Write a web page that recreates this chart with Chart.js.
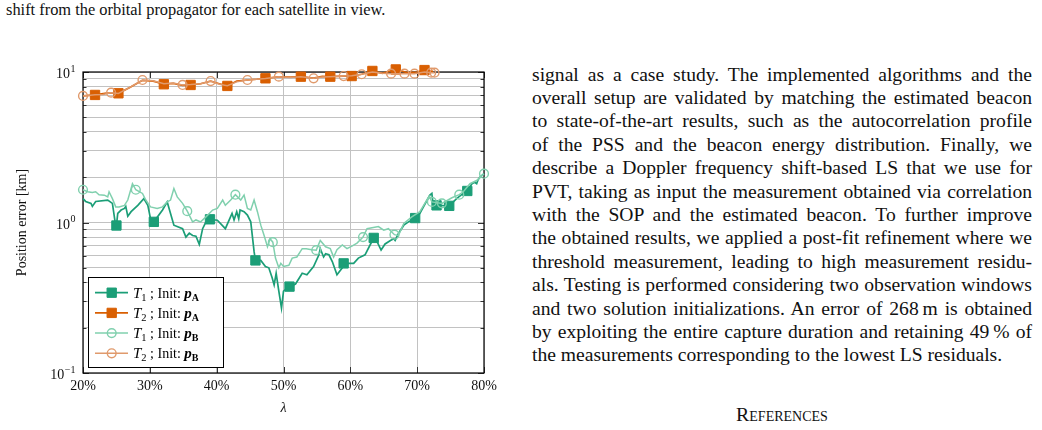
<!DOCTYPE html>
<html><head><meta charset="utf-8">
<script src="https://cdn.jsdelivr.net/npm/chart.js@4.4.1/dist/chart.umd.min.js"></script>
<style>
html,body{margin:0;padding:0;background:#fff;}
body{width:1042px;height:430px;position:relative;overflow:hidden;font-family:"Liberation Serif","Times New Roman",serif;color:#111;}
#c{position:absolute;left:0;top:0;}
#cap{position:absolute;left:6px;top:1px;font-size:16.4px;line-height:18px;white-space:nowrap;}
#col{position:absolute;left:532px;top:62.5px;width:500px;font-size:19.6px;line-height:23.4px;}
#col .j{text-align:justify;text-align-last:justify;white-space:nowrap;overflow:visible;}
#col .l{text-align:left;white-space:nowrap;}
#refs{position:absolute;left:532px;top:403px;width:500px;text-align:center;font-size:19.8px;line-height:23.8px;font-variant:small-caps;}
</style></head>
<body>
<div id="cap">shift from the orbital propagator for each satellite in view.</div>
<canvas id="c" width="520" height="430"></canvas>
<div id="col">
<div class="j">signal as a case study. The implemented algorithms and the</div>
<div class="j">overall setup are validated by matching the estimated beacon</div>
<div class="j">to state-of-the-art results, such as the autocorrelation profile</div>
<div class="j">of the PSS and the beacon energy distribution. Finally, we</div>
<div class="j">describe a Doppler frequency shift-based LS that we use for</div>
<div class="j">PVT, taking as input the measurement obtained via correlation</div>
<div class="j">with the SOP and the estimated beacon. To further improve</div>
<div class="j">the obtained results, we applied a post-fit refinement where we</div>
<div class="j">threshold measurement, leading to high measurement residu-</div>
<div class="j">als. Testing is performed considering two observation windows</div>
<div class="j">and two solution initializations. An error of 268&#8201;m is obtained</div>
<div class="j">by exploiting the entire capture duration and retaining 49&#8201;% of</div>
<div class="l">the measurements corresponding to the lowest LS residuals.</div>
</div>
<div id="refs">References</div>
<script>
// ---------- data ----------
const lambdaT1A = [20.0,20.4,21.2,21.4,21.9,23.7,24.4,24.8,25.0,25.2,25.7,26.2,26.4,26.7,27.2,28.2,29.1,29.7,30.1,30.6,31.9,32.6,33.6,34.9,35.4,35.9,36.4,36.9,37.4,37.9,38.4,39.0,40.1,41.3,42.3,42.6,43.0,43.3,43.5,44.1,44.6,45.1,45.6,45.8,46.6,47.3,47.8,48.3,48.6,48.9,49.3,49.7,50.0,50.9,51.8,52.8,53.5,54.5,55.3,55.5,56.0,56.3,56.8,57.3,58.0,58.8,59.0,60.5,61.2,62.2,63.2,63.5,64.0,64.6,65.2,66.0,66.5,66.7,67.2,68.0,68.7,69.7,70.4,71.9,72.2,72.4,72.9,74.8,75.9,76.9,77.5,78.2,78.6,78.9,79.1,79.4,80.0];
const errT1A    = [1.44,1.38,1.34,1.28,1.38,1.41,1.34,1.01,0.955,1.15,1.21,1.24,1.28,1.10,1.18,1.30,1.44,1.30,1.06,1.01,1.21,1.37,0.96,0.91,0.80,0.85,0.82,0.81,0.715,0.91,1.01,1.05,1.035,0.91,1.15,1.04,1.18,1.06,1.21,1.18,1.12,1.01,0.64,0.56,0.56,0.51,0.50,0.43,0.385,0.46,0.35,0.27,0.35,0.375,0.39,0.46,0.45,0.51,0.61,0.67,0.59,0.62,0.61,0.55,0.45,0.50,0.535,0.535,0.58,0.61,0.745,0.79,0.745,0.656,0.72,0.76,0.78,0.76,0.845,0.96,1.01,1.07,1.15,1.52,1.56,1.30,1.30,1.29,1.44,1.56,1.62,1.81,1.85,1.81,1.92,2.0,2.11];
const markT1A   = [25.0,30.6,39.0,45.8,50.9,59.0,63.5,69.7,72.9,74.8,77.5];

const lambdaT2A = [20.0,21.8,23.5,25.3,27.0,28.9,30.5,32.1,33.5,34.9,36.1,37.6,39.1,40.4,41.6,43.0,44.6,46.0,47.3,49.3,51.0,52.6,54.5,55.8,57.0,59.0,60.2,61.7,63.3,64.8,66.8,68.5,70.0,71.1,72.4];
const errT2A    = [6.95,7.04,7.25,7.22,7.9,8.8,8.7,8.29,8.4,8.15,8.2,8.35,8.7,8.35,8.08,8.7,8.85,8.95,9.08,9.3,9.25,9.31,9.1,9.35,9.31,9.4,9.4,9.66,10.16,9.8,10.4,9.9,10.0,10.3,10.1];
const markT2A   = [21.8,25.3,32.1,36.1,41.6,47.3,52.6,57.0,60.2,63.3,66.8,71.1];

const lambdaT1B = [20.0,20.7,21.4,21.9,22.4,23.2,23.7,23.9,24.4,24.9,25.4,26.2,26.7,27.4,27.9,28.9,29.4,30.1,31.1,31.9,32.6,33.1,33.6,34.1,34.9,35.6,36.4,36.9,37.6,38.4,39.4,40.1,40.9,41.3,42.1,42.8,43.6,44.1,44.6,45.1,45.6,46.1,46.6,47.1,47.6,48.0,48.4,48.8,49.3,49.6,50.0,50.8,51.3,52.0,52.8,53.4,54.2,54.9,55.5,56.3,57.0,57.5,58.0,58.8,59.5,60.3,61.0,61.9,62.5,64.2,65.0,65.7,66.6,67.2,68.0,69.2,70.4,71.8,72.2,73.7,75.2,76.3,76.9,77.9,78.9,80.0];
const errT1B    = [1.65,1.60,1.58,1.60,1.53,1.52,1.48,1.60,1.44,1.27,1.27,1.30,1.41,1.81,1.65,1.56,1.41,1.27,1.24,1.27,1.37,1.41,1.68,1.48,1.34,1.19,1.01,1.04,1.01,1.09,1.21,1.24,1.41,1.30,1.41,1.53,1.41,1.52,1.24,1.21,1.41,1.18,0.96,0.82,0.69,0.78,0.74,0.58,0.50,0.535,0.51,0.52,0.58,0.59,0.67,0.67,0.66,0.655,0.76,0.69,0.67,0.59,0.66,0.71,0.67,0.70,0.73,0.80,0.91,0.94,0.89,0.91,0.83,0.82,0.985,1.09,1.18,1.50,1.37,1.34,1.46,1.53,1.60,1.81,1.90,2.11];
const markT1B   = [20.0,27.9,35.6,42.8,48.4,54.9,61.9,66.6,72.2,73.7,76.3,80.0];

const lambdaT2B = [20.0,21.8,23.0,24.2,25.3,27.0,28.9,30.5,32.1,33.5,34.9,36.1,37.6,39.1,40.4,41.6,43.0,44.6,46.0,47.3,49.3,51.0,52.6,54.5,55.8,57.0,59.0,60.2,61.7,63.3,64.8,66.1,68.1,69.6,71.1,72.1,72.6];
const errT2B    = [6.93,7.05,7.1,7.29,7.2,7.9,8.85,8.75,8.35,8.45,8.2,8.25,8.35,8.71,8.3,8.1,8.6,8.85,8.95,9.05,9.31,9.2,9.3,9.08,9.25,9.3,9.4,9.45,9.66,10.0,9.8,9.75,9.75,9.75,10.0,9.9,9.9];
const markT2B   = [20.0,24.2,28.9,34.9,39.1,44.6,49.3,54.5,59.0,61.7,66.1,68.1,69.6,72.1,72.6];

const xTickValues = [20,30,40,50,60,70,80];
const yTickValues = [0.1,0.2,0.3,0.4,0.5,0.6,0.7,0.8,0.9,1,2,3,4,5,6,7,8,9,10];
const yTickBase = '10';
const yTickExponents = {0.1:'\u22121', 1:'0', 10:'1'};
const legendWindow = ['1','2','1','2'];
const legendInit   = ['A','A','B','B'];
const xTitle = '\u03BB';
const yTitle = 'Position error [km]';

// ---------- styles ----------
const C_DG = '#1b9e77', C_OR = '#d95f02', C_LG = '#80d0ae', C_LO = '#e09a6c';
const SERIF = '"Liberation Serif","Times New Roman",serif';

function pts(xs, ys){ return xs.map((x,i)=>({x:x, y:ys[i]})); }
function flags(xs, ms){ const s = new Set(ms); return xs.map(x=>s.has(x)); }

const styles = [
  {color:C_DG, fill:C_DG, style:'rect', r:6.6, bw:1, lw:1.7},
  {color:C_OR, fill:C_OR, style:'rect', r:6.6, bw:1, lw:1.7},
  {color:C_LG, fill:'rgba(0,0,0,0)', style:'circle', r:4.4, bw:1.4, lw:1.5},
  {color:C_LO, fill:'rgba(0,0,0,0)', style:'circle', r:4.4, bw:1.4, lw:1.5}
];
const seriesX = [lambdaT1A, lambdaT2A, lambdaT1B, lambdaT2B];
const seriesY = [errT1A, errT2A, errT1B, errT2B];
const seriesM = [markT1A, markT2A, markT1B, markT2B];

const datasets = styles.map((st,i)=>{
  const f = flags(seriesX[i], seriesM[i]);
  return {
    data: pts(seriesX[i], seriesY[i]),
    borderColor: st.color, backgroundColor: st.fill,
    borderWidth: st.lw, tension: 0, clip: false, order: 3 - i,
    pointStyle: st.style,
    pointRadius: ctx => f[ctx.dataIndex] ? st.r : 0,
    pointHoverRadius: ctx => f[ctx.dataIndex] ? st.r : 0,
    pointBorderWidth: st.bw,
    pointBorderColor: st.color,
    pointBackgroundColor: st.fill
  };
});

const framePlugin = {
  id: 'frame',
  beforeDatasetsDraw(chart){
    const {ctx, chartArea:a, scales:{x, y}} = chart;
    ctx.save();
    ctx.strokeStyle = '#333'; ctx.lineWidth = 1;
    ctx.beginPath();
    y.ticks.forEach(t=>{
      const py = Math.round(y.getPixelForValue(t.value)) + 0.5;
      const len = yTickExponents[t.value] ? 6 : 3.5;
      ctx.moveTo(a.left, py); ctx.lineTo(a.left + len, py);
      ctx.moveTo(a.right, py); ctx.lineTo(a.right - len, py);
    });
    x.ticks.forEach(t=>{
      const px = Math.round(x.getPixelForValue(t.value)) + 0.5;
      ctx.moveTo(px, a.bottom); ctx.lineTo(px, a.bottom - 6);
      ctx.moveTo(px, a.top); ctx.lineTo(px, a.top + 6);
    });
    ctx.stroke();
    ctx.strokeStyle = '#000'; ctx.lineWidth = 1.2;
    ctx.strokeRect(a.left, a.top, a.right - a.left, a.bottom - a.top);
    ctx.fillStyle = '#111'; ctx.textBaseline = 'alphabetic';
    Object.keys(yTickExponents).forEach(k=>{
      const v = parseFloat(k);
      const py = y.getPixelForValue(v);
      const ex = yTickExponents[k];
      const right = a.left - 7.5;
      ctx.font = '10px ' + SERIF;
      const ew = ctx.measureText(ex).width;
      ctx.textAlign = 'left';
      ctx.fillText(ex, right - ew, py - 0.5);
      ctx.font = '14px ' + SERIF;
      ctx.textAlign = 'right';
      ctx.fillText(yTickBase, right - ew - 0.5, py + 6);
    });
    ctx.restore();
  },
  afterDatasetsDraw(chart){
    const {ctx, chartArea:a} = chart;
    const bx = a.left + 5, bw = 135, bh = 90, by = a.bottom - 6 - bh;
    ctx.save();
    ctx.fillStyle = '#fff';
    ctx.fillRect(bx, by, bw, bh);
    ctx.strokeStyle = '#000'; ctx.lineWidth = 1;
    ctx.strokeRect(bx + 0.5, by + 0.5, bw, bh);
    styles.forEach((st, i)=>{
      const ry = by + 15.7 + i * 20.2;
      ctx.strokeStyle = st.color; ctx.lineWidth = st.lw;
      ctx.beginPath(); ctx.moveTo(bx + 7, ry); ctx.lineTo(bx + 40, ry); ctx.stroke();
      ctx.fillStyle = st.fill; ctx.strokeStyle = st.color; ctx.lineWidth = st.bw;
      Chart.helpers.drawPoint(ctx, {pointStyle: st.style, radius: st.r, borderWidth: st.bw, rotation: 0}, bx + 23.7, ry);
      let tx = bx + 45; const base = ry + 5;
      ctx.fillStyle = '#000'; ctx.textBaseline = 'alphabetic'; ctx.textAlign = 'left';
      const put = (s, font, dy) => { ctx.font = font; ctx.fillText(s, tx, base + (dy||0)); tx += ctx.measureText(s).width; };
      put('T', 'italic 15px ' + SERIF);
      put(legendWindow[i], '10.5px ' + SERIF, 3);
      put(' ; Init: ', '14px ' + SERIF);
      put('p', 'bold italic 15px ' + SERIF);
      put(legendInit[i], 'bold 10px ' + SERIF, 3);
    });
    ctx.restore();
  }
};

new Chart(document.getElementById('c'), {
  type: 'line',
  data: { datasets: datasets },
  options: {
    responsive: false, animation: false, devicePixelRatio: 1,
    layout: { padding: { top: 72, right: 36, left: 0, bottom: 0 } },
    plugins: { legend: { display: false }, tooltip: { enabled: false } },
    scales: {
      x: {
        type: 'linear', position: 'bottom', min: 20, max: 80,
        afterBuildTicks: s => { s.ticks = xTickValues.map(v => ({value: v})); },
        afterFit: s => { s.height = 57; },
        ticks: { callback: v => v + '%', font: { family: SERIF, size: 14 }, color: '#111', padding: 5, maxRotation: 0, autoSkip: false },
        grid: { color: '#c2c2c2', lineWidth: 1, drawTicks: false },
        border: { display: false },
        title: { display: true, text: xTitle, font: { family: SERIF, size: 14, style: 'italic' }, color: '#111', padding: { top: 0, bottom: 13 } }
      },
      y: {
        type: 'logarithmic', position: 'left', min: 0.1, max: 10,
        afterBuildTicks: s => { s.ticks = yTickValues.map(v => ({value: v})); },
        afterFit: s => { s.width = 83; },
        ticks: { display: false, autoSkip: false },
        grid: { color: '#c2c2c2', lineWidth: 1, drawTicks: false },
        border: { display: false },
        title: { display: true, text: yTitle, font: { family: SERIF, size: 14 }, color: '#111', padding: { top: 14, bottom: 0 } }
      }
    }
  },
  plugins: [framePlugin]
});
</script>
</body></html>
